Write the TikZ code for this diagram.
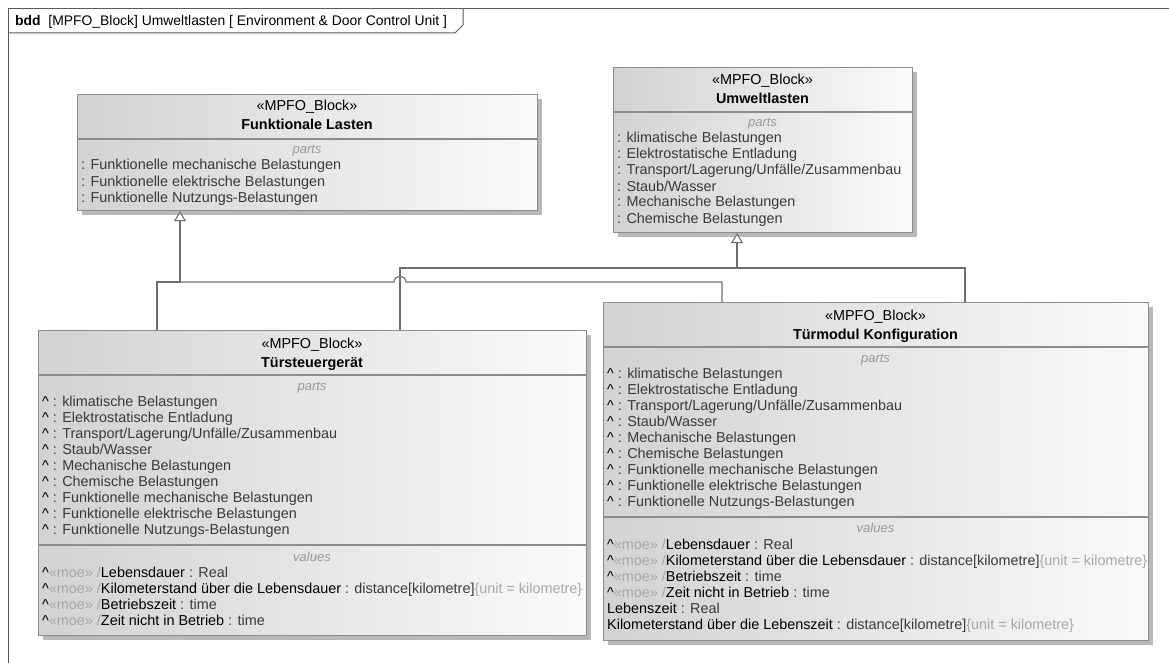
\documentclass[tikz,border=0pt]{standalone}
\usepackage{fontspec}
\setmainfont{Liberation Sans}
\usetikzlibrary{arrows.meta,shadows}

\definecolor{boxline}{HTML}{8C8C8C}
\definecolor{shadeL}{HTML}{D2D2D2}
\definecolor{shadeR}{HTML}{FAFAFA}
\definecolor{connc}{HTML}{6E6E6E}
\definecolor{entrygray}{HTML}{3A3A3A}
\definecolor{labelgray}{HTML}{9A9A9A}
\definecolor{moegray}{HTML}{A8A8A8}
\definecolor{framec}{HTML}{5A5A5A}

\newcommand\fs{\fontsize{14.4}{16}\selectfont}
\newcommand\fstitle{\fontsize{13.9}{16}\selectfont}
\newcommand\fsit{\fontsize{13}{15}\selectfont\itshape}
\newcommand\caret{\textcolor{black}{\textasciicircum}}
\newcommand\moe{\textcolor{moegray}{«moe» /}}
\newcommand\unitkm{\textcolor{moegray}{\{unit = kilometre\}}}
\newcommand\blk[1]{\textcolor{black}{#1}}

\tikzset{
  blockbox/.style={draw=boxline, line width=1.1pt, rectangle, anchor=north west,
    inner sep=0pt, left color=shadeL, right color=shadeR,
    drop shadow={shadow xshift=4pt, shadow yshift=-4pt, fill=black!28, opacity=1}},
  stereo/.style={anchor=base, inner sep=0pt, font=\fs, text=black},
  bname/.style={anchor=base, inner sep=0pt, font=\fs\bfseries, text=black},
  compt/.style={anchor=base, inner sep=0pt, font=\fsit, text=labelgray},
  entry/.style={anchor=base west, inner sep=0pt, font=\fs, text=entrygray},
  divline/.style={draw=boxline, line width=1.1pt},
  conn/.style={draw=connc, line width=1.1pt},
  gen/.style={conn, -{Triangle[open, width=12pt, length=10pt, fill=white]}},
}

\begin{document}
\begin{tikzpicture}[x=1pt, y=-1pt]
\useasboundingbox (0,0) rectangle (1169,663);

% diagram frame with its header tab
\draw[framec, line width=1pt] (8,663) -- (8,9) -- (1169,9);
\draw[framec, line width=1pt] (8,33) -- (455,33) -- (463,25) -- (463,9);
\node[anchor=base west, inner sep=0pt, font=\fstitle] (title) at (15,26)
  {\textbf{bdd}\ \ [MPFO\_Block] Umweltlasten [ Environment \& Door Control Unit ]};

% ---------- Funktionale Lasten ----------
\node[blockbox, minimum width=460pt, minimum height=116pt] (FL) at (77,94) {};
\draw[divline] (77,139) -- (537,139);
\node[stereo] (FL-st) at (307,111) {«MPFO\_Block»};
\node[bname] (FL-nm) at (307,130) {Funktionale Lasten};
\node[compt] (FL-pt) at (307,154) {parts};
\foreach [count=\i] \t in {Funktionelle mechanische Belastungen,
    Funktionelle elektrische Belastungen, Funktionelle Nutzungs-Belastungen}
  \node[entry] (FL-p\i) at (81,{170+16*(\i-1)}) {: \t};

% ---------- Umweltlasten ----------
\node[blockbox, minimum width=299pt, minimum height=165pt] (UL) at (613,67) {};
\draw[divline] (613,112) -- (912,112);
\node[stereo] (UL-st) at (762.5,85) {«MPFO\_Block»};
\node[bname] (UL-nm) at (762.5,104) {Umweltlasten};
\node[compt] (UL-pt) at (762.5,127) {parts};
\foreach [count=\i] \t in {klimatische Belastungen, Elektrostatische Entladung,
    Transport/Lagerung/Unfälle/Zusammenbau, Staub/Wasser,
    Mechanische Belastungen, Chemische Belastungen}
  \node[entry] (UL-p\i) at (617,{143+16*(\i-1)}) {: \t};

% ---------- Türsteuergerät ----------
\node[blockbox, minimum width=548pt, minimum height=305pt] (TS) at (38,330) {};
\draw[divline] (38,375) -- (586,375);
\draw[divline] (38,545) -- (586,545);
\node[stereo] (TS-st) at (312,348) {«MPFO\_Block»};
\node[bname] (TS-nm) at (312,367) {Türsteuergerät};
\node[compt] (TS-pt) at (312,390) {parts};
\foreach [count=\i] \t in {klimatische Belastungen, Elektrostatische Entladung,
    Transport/Lagerung/Unfälle/Zusammenbau, Staub/Wasser,
    Mechanische Belastungen, Chemische Belastungen,
    Funktionelle mechanische Belastungen, Funktionelle elektrische Belastungen,
    Funktionelle Nutzungs-Belastungen}
  \node[entry] (TS-p\i) at (42,{406+16.1*(\i-1)}) {\caret{} : \t};
\node[compt] (TS-vl) at (312,561) {values};
\node[entry] (TS-v1) at (42,577) {\caret\moe\blk{Lebensdauer} : Real};
\node[entry] (TS-v2) at (42,593) {\caret\moe\blk{Kilometerstand über die Lebensdauer} : distance[kilometre]\unitkm};
\node[entry] (TS-v3) at (42,609) {\caret\moe\blk{Betriebszeit} : time};
\node[entry] (TS-v4) at (42,625) {\caret\moe\blk{Zeit nicht in Betrieb} : time};

% ---------- Türmodul Konfiguration ----------
\node[blockbox, minimum width=545pt, minimum height=338pt] (TM) at (603,302) {};
\draw[divline] (603,347) -- (1148,347);
\draw[divline] (603,517) -- (1148,517);
\node[stereo] (TM-st) at (875.5,320) {«MPFO\_Block»};
\node[bname] (TM-nm) at (875.5,339) {Türmodul Konfiguration};
\node[compt] (TM-pt) at (875.5,362) {parts};
\foreach [count=\i] \t in {klimatische Belastungen, Elektrostatische Entladung,
    Transport/Lagerung/Unfälle/Zusammenbau, Staub/Wasser,
    Mechanische Belastungen, Chemische Belastungen,
    Funktionelle mechanische Belastungen, Funktionelle elektrische Belastungen,
    Funktionelle Nutzungs-Belastungen}
  \node[entry] (TM-p\i) at (607,{378+16.1*(\i-1)}) {\caret{} : \t};
\node[compt] (TM-vl) at (875.5,532) {values};
\node[entry] (TM-v1) at (607,549) {\caret\moe\blk{Lebensdauer} : Real};
\node[entry] (TM-v2) at (607,565) {\caret\moe\blk{Kilometerstand über die Lebensdauer} : distance[kilometre]\unitkm};
\node[entry] (TM-v3) at (607,581) {\caret\moe\blk{Betriebszeit} : time};
\node[entry] (TM-v4) at (607,597) {\caret\moe\blk{Zeit nicht in Betrieb} : time};
\node[entry] (TM-v5) at (607,613) {\blk{Lebenszeit} : Real};
\node[entry] (TM-v6) at (607,629) {\blk{Kilometerstand über die Lebenszeit} : distance[kilometre]\unitkm};

% ---------- generalizations ----------
\coordinate (flBus) at (180,282);
\coordinate (ulBus) at (737,268);
\coordinate (tsL) at (157,0);
\coordinate (tsR) at (400,0);
\coordinate (tmL) at (722,0);
\coordinate (tmR) at (965,0);

\draw[gen] (TS.north -| tsL) |- (flBus) -- (FL.south -| flBus);
\draw[conn] (TM.north -| tmL) |- (406,282)
  .. controls (406,274.5) and (394,274.5) .. (394,282) -- (flBus);
\draw[gen] (TS.north -| tsR) |- (ulBus) -- (UL.south -| ulBus);
\draw[conn] (TM.north -| tmR) |- (ulBus);
\end{tikzpicture}
\end{document}
